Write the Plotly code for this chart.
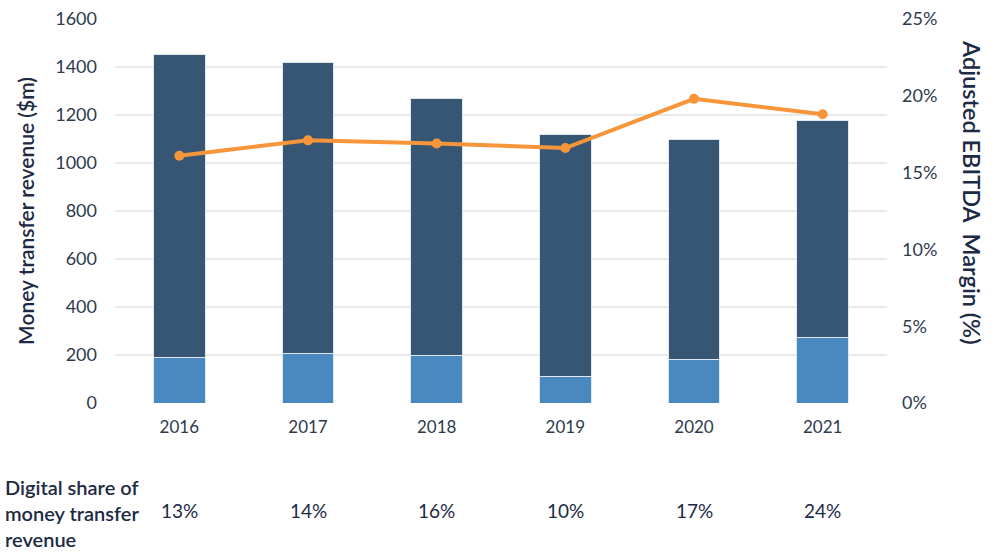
import plotly.graph_objects as go

years = ["2016", "2017", "2018", "2019", "2020", "2021"]
total_revenue = [1454, 1420, 1270, 1120, 1100, 1178]
digital_revenue = [190, 208, 200, 111, 183, 274]
ebitda_margin = [0.161, 0.171, 0.169, 0.166, 0.198, 0.188]
digital_share_labels = ["13%", "14%", "16%", "10%", "17%", "24%"]

other_revenue = [t - d for t, d in zip(total_revenue, digital_revenue)]

NAVY = "#1c2a44"
TICK = "#2d3a4c"
FONT = "Lato"

fig = go.Figure()
fig.add_trace(go.Bar(x=years, y=digital_revenue, marker=dict(color="#4a88c0", line=dict(color="#dfe8f1", width=1)),
                     yaxis="y", hoverinfo="skip"))
fig.add_trace(go.Bar(x=years, y=other_revenue, marker=dict(color="#375673", line=dict(color="#dfe8f1", width=1)),
                     yaxis="y", hoverinfo="skip"))
fig.add_trace(go.Scatter(x=years, y=ebitda_margin, yaxis="y2", mode="lines+markers",
                         line=dict(color="#f7953a", width=4), marker=dict(size=10, color="#f7953a")))

fig.update_layout(
    width=999, height=554,
    margin=dict(l=115, r=112, t=19, b=151, autoexpand=False),
    barmode="stack", bargap=0.6,
    showlegend=False,
    plot_bgcolor="white", paper_bgcolor="white",
    font=dict(family=FONT, color=NAVY),
    xaxis=dict(type="category", range=[-0.5, len(years) - 0.5], tickfont=dict(size=17, color=TICK),
               showgrid=False, showline=False, ticks="", ticklabelstandoff=12, automargin=False),
    yaxis=dict(range=[0, 1600], dtick=200, gridcolor="#e9e9e9", gridwidth=2, automargin=False,
               tickfont=dict(size=18, color=TICK), zeroline=False, ticklabelstandoff=17,
               title=dict(text="Money transfer revenue ($m)", font=dict(size=21, color=NAVY, weight=600),
                          standoff=14)),
    yaxis2=dict(range=[0, 0.25], dtick=0.05, tickformat=".0%", overlaying="y", side="right", automargin=False,
                showgrid=False, zeroline=False, tickfont=dict(size=18, color=TICK), ticklabelstandoff=14),
)

fig.add_annotation(text="Adjusted EBITDA&nbsp; Margin (%)", textangle=90, xref="paper", yref="paper",
                   x=1.11, y=0.547, xanchor="center", yanchor="middle", showarrow=False,
                   font=dict(size=23.5, color=NAVY, weight=600))

fig.add_annotation(text="Digital share of<br>money transfer<br>revenue", xref="paper", yref="paper",
                   x=-0.1455, y=-0.182, xanchor="left", yanchor="top", align="left", showarrow=False,
                   font=dict(size=20, color=NAVY, weight=600))

for i, lab in enumerate(digital_share_labels):
    fig.add_annotation(text=lab, x=i, xref="x", yref="paper", y=-0.28, yanchor="middle",
                       showarrow=False, font=dict(size=19, color=NAVY))

fig.write_html("out.html", post_script="document.body.style.margin='0';",
               config={"displayModeBar": False})
